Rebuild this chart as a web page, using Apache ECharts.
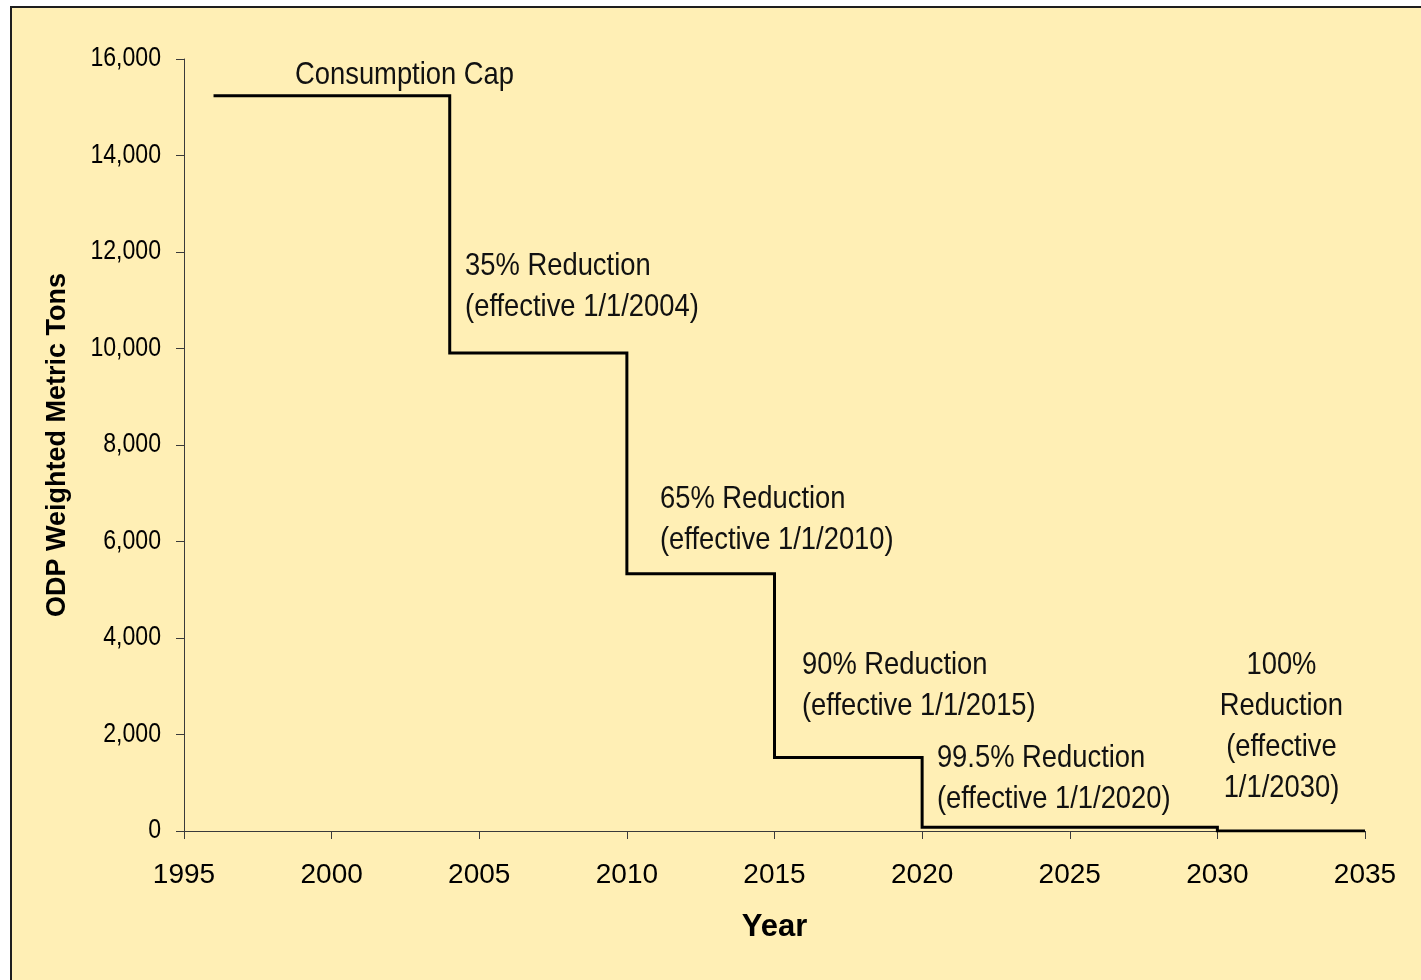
<!DOCTYPE html>
<html>
<head>
<meta charset="utf-8">
<title>ODP Consumption Cap Phase-out Schedule</title>
<script src="https://cdn.jsdelivr.net/npm/echarts@6/dist/echarts.min.js"></script>
<style>
  html, body { margin: 0; padding: 0; background: #ffffff; }
  #chart { width: 1421px; height: 980px; }
</style>
</head>
<body>
<div id="chart"></div>
<script>
// Step years where the cap changes, and the cap level that applies from each one
const stepYears = [1996, 2004, 2010, 2015, 2020, 2030, 2035];
const capLevels = [15240, 9906, 5334, 1524, 76, 0];

// Axis ranges and ticks
const yearTicks = [1995, 2000, 2005, 2010, 2015, 2020, 2025, 2030, 2035];
const tonTicks = [0, 2000, 4000, 6000, 8000, 10000, 12000, 14000, 16000];

// Annotation texts
const noteTexts = [
  'Consumption Cap',
  '35% Reduction\n(effective 1/1/2004)',
  '65% Reduction\n(effective 1/1/2010)',
  '90% Reduction\n(effective 1/1/2015)',
  '99.5% Reduction\n(effective 1/1/2020)',
  '100%\nReduction\n(effective\n1/1/2030)'
];

// Where each annotation sits, in year / ton units, and how it is aligned
const noteLayout = [
  { at: [1998.76, 15670], align: 'left' },
  { at: [2004.52, 11276], align: 'left' },
  { at: [2011.12, 6457], align: 'left' },
  { at: [2015.93, 3017], align: 'left' },
  { at: [2020.50, 1090], align: 'left' },
  { at: [2032.17, 2167], align: 'center' }
];

// Build the stepped cap line: horizontal run for each period, then a drop
const capLine = [];
for (let i = 0; i < capLevels.length; i++) {
  capLine.push([stepYears[i], capLevels[i]]);
  capLine.push([stepYears[i + 1], capLevels[i]]);
}

// Condensed text is drawn with Liberation Sans squeezed horizontally
const sans = '"Liberation Sans", Arial, sans-serif';
const NARROW = 0.855;

const chart = echarts.init(document.getElementById('chart'), null, { renderer: 'canvas' });

const frame = {
  type: 'rect',
  z: -10,
  silent: true,
  shape: { x: 11, y: 7, width: 1430, height: 990 },
  style: { fill: '#FFEFB5', stroke: '#1e1e1e', lineWidth: 2 }
};

chart.setOption({
  animation: false,
  backgroundColor: '#ffffff',
  graphic: [frame],
  grid: { left: 184, right: 56, top: 59, bottom: 149, containLabel: false },
  xAxis: {
    type: 'value',
    min: yearTicks[0],
    max: yearTicks[yearTicks.length - 1],
    interval: 5,
    name: 'Year',
    nameLocation: 'middle',
    nameGap: 81,
    nameTextStyle: { fontFamily: sans, fontWeight: 'bold', fontSize: 31, color: '#000' },
    axisLine: { show: true, onZero: false, lineStyle: { color: '#3a3a3a', width: 1 } },
    axisTick: { show: true, length: 8, lineStyle: { color: '#3a3a3a', width: 1 } },
    axisLabel: { margin: 30, fontFamily: sans, fontSize: 28, color: '#000', formatter: v => String(v) },
    splitLine: { show: false }
  },
  yAxis: {
    type: 'value',
    min: tonTicks[0],
    max: tonTicks[tonTicks.length - 1],
    interval: 2000,
    axisLine: { show: true, lineStyle: { color: '#3a3a3a', width: 1 } },
    axisTick: { show: true, length: 8, lineStyle: { color: '#3a3a3a', width: 1 } },
    axisLabel: { show: false },
    splitLine: { show: false }
  },
  series: [
    {
      name: 'Consumption cap',
      type: 'line',
      data: capLine,
      symbol: 'none',
      lineStyle: { color: '#000', width: 3, join: 'miter' },
      z: 3
    }
  ]
});

// Condensed texts (tick labels, axis title, annotations), placed through the axes
const toPx = p => chart.convertToPixel({ gridIndex: 0 }, p);
const extra = [frame];

tonTicks.forEach(v => {
  const p = toPx([yearTicks[0], v]);
  extra.push({
    type: 'text', silent: true, z: 5,
    x: p[0] - 23, y: p[1], scaleX: NARROW, scaleY: 1,
    style: {
      text: v.toLocaleString('en-US'),
      font: '27px ' + sans, fill: '#000',
      align: 'right', verticalAlign: 'middle'
    }
  });
});

const midTons = (tonTicks[0] + tonTicks[tonTicks.length - 1]) / 2;
const titleAnchor = toPx([yearTicks[0], midTons]);
extra.push({
  type: 'text', silent: true, z: 5,
  x: titleAnchor[0] - 126, y: titleAnchor[1], rotation: Math.PI / 2,
  style: {
    text: 'ODP Weighted Metric Tons',
    font: 'bold 27px ' + sans, fill: '#000',
    align: 'center', verticalAlign: 'middle'
  }
});

noteTexts.forEach((t, i) => {
  const p = toPx(noteLayout[i].at);
  extra.push({
    type: 'text', silent: true, z: 5,
    x: p[0], y: p[1], scaleX: NARROW, scaleY: 1,
    style: {
      text: t,
      font: '32px ' + sans, fill: '#111',
      lineHeight: 41,
      align: noteLayout[i].align, verticalAlign: 'middle'
    }
  });
});

chart.setOption({ graphic: extra }, { replaceMerge: ['graphic'] });
</script>
</body>
</html>
